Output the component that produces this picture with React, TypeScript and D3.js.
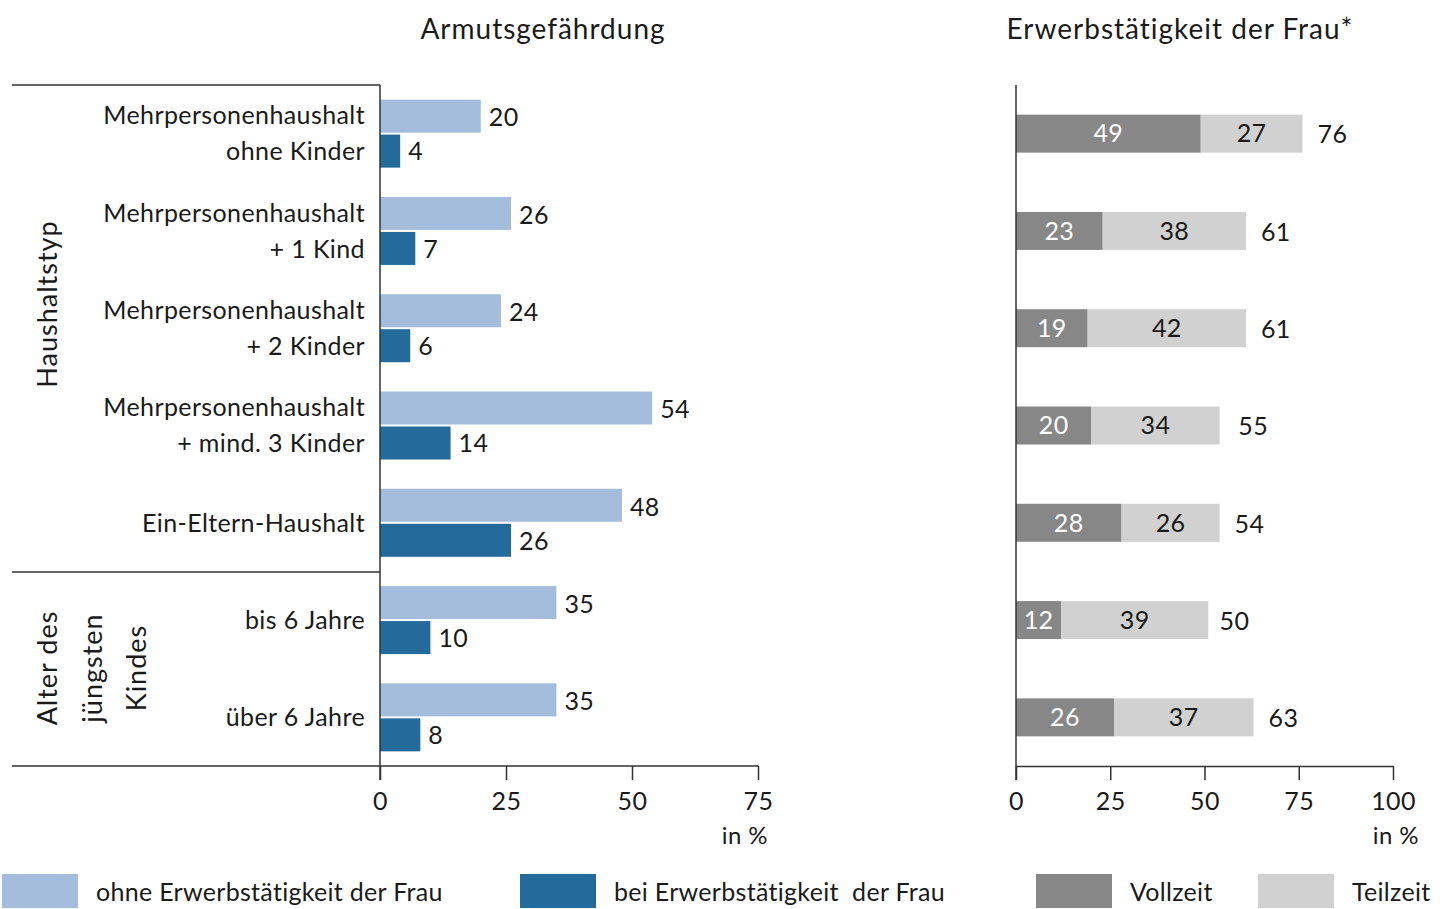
import React, { useRef, useEffect } from 'react';
import * as d3 from 'd3';

const categories = [
  ['Mehrpersonenhaushalt', 'ohne Kinder'],
  ['Mehrpersonenhaushalt', '+ 1 Kind'],
  ['Mehrpersonenhaushalt', '+ 2 Kinder'],
  ['Mehrpersonenhaushalt', '+ mind. 3 Kinder'],
  ['Ein-Eltern-Haushalt'],
  ['bis 6 Jahre'],
  ['über 6 Jahre'],
];
const ohneErwerb = [20, 26, 24, 54, 48, 35, 35];
const beiErwerb = [4, 7, 6, 14, 26, 10, 8];
const vollzeit = [49, 23, 19, 20, 28, 12, 26];
const teilzeit = [27, 38, 42, 34, 26, 39, 37];
const totals = [76, 61, 61, 55, 54, 50, 63];
const leftTicks = [0, 25, 50, 75];
const rightTicks = [0, 25, 50, 75, 100];

const FONT = 'Lato, "Noto Sans", sans-serif';
const C_LIGHT = '#a4bddc';
const C_DARK = '#246b9b';
const C_VOLL = '#878787';
const C_TEIL = '#d1d1d1';
const INK = '#1a1a1a';

const App = () => {
  const ref = useRef(null);

  useEffect(() => {
    const svg = d3.select(ref.current);
    svg.selectAll('*').remove();
    svg.attr('font-family', FONT).attr('fill', INK).attr('letter-spacing', 0.4);

    const idx = categories.map((_, i) => String(i));
    const y = d3.scaleBand().domain(idx).range([85, 766]);
    const cy = (i) => y(String(i)) + y.bandwidth() / 2;

    const xL = d3.scaleLinear().domain([0, 75]).range([380, 758]);
    const xR = d3.scaleLinear().domain([0, 100]).range([1016, 1393]);

    // titles
    svg.append('text').attr('x', 543).attr('y', 39).attr('text-anchor', 'middle')
      .attr('font-size', 28).attr('letter-spacing', 1).text('Armutsgefährdung');
    svg.append('text').attr('x', 1180).attr('y', 39).attr('text-anchor', 'middle')
      .attr('font-size', 28).attr('letter-spacing', 1).text('Erwerbstätigkeit der Frau*');

    // left bars
    const gL = svg.append('g');
    gL.selectAll('rect.light').data(ohneErwerb).enter().append('rect')
      .attr('x', xL(0)).attr('y', (d, i) => cy(i) - 34)
      .attr('width', (d) => xL(d) - xL(0)).attr('height', 33).attr('fill', C_LIGHT);
    gL.selectAll('rect.dark').data(beiErwerb).enter().append('rect')
      .attr('x', xL(0)).attr('y', (d, i) => cy(i) + 1)
      .attr('width', (d) => xL(d) - xL(0)).attr('height', 33).attr('fill', C_DARK);
    gL.selectAll('text.vl').data(ohneErwerb).enter().append('text')
      .attr('x', (d) => xL(d) + 8).attr('y', (d, i) => cy(i) - 16)
      .attr('dy', '0.35em').attr('font-size', 25).text((d) => d);
    gL.selectAll('text.vd').data(beiErwerb).enter().append('text')
      .attr('x', (d) => xL(d) + 8).attr('y', (d, i) => cy(i) + 18)
      .attr('dy', '0.35em').attr('font-size', 25).text((d) => d);

    // category labels
    categories.forEach((lines, i) => {
      const t = svg.append('text').attr('text-anchor', 'end').attr('font-size', 25);
      lines.forEach((ln, j) => {
        const off = lines.length === 1 ? 0 : (j === 0 ? -18 : 18);
        t.append('tspan').attr('x', 365).attr('y', cy(i) + off).attr('dy', '0.35em').text(ln);
      });
    });

    // group labels (rotated)
    const rot = (x, yy, txt) =>
      svg.append('text').attr('transform', `translate(${x},${yy}) rotate(-90)`)
        .attr('text-anchor', 'middle').attr('dy', '0.35em').attr('font-size', 27)
        .attr('letter-spacing', 1).text(txt);
    rot(48, 304, 'Haushaltstyp');
    rot(48, 668, 'Alter des');
    rot(93, 668, 'jüngsten');
    rot(137, 668, 'Kindes');

    // left frame lines
    const line = (x1, y1, x2, y2) =>
      svg.append('line').attr('x1', x1).attr('y1', y1).attr('x2', x2).attr('y2', y2)
        .attr('stroke', '#333').attr('stroke-width', 1.5);
    line(12, 85, 380, 85);
    line(12, 572, 380, 572);

    // left axis
    const axL = svg.append('g').attr('transform', 'translate(0,766)')
      .call(d3.axisBottom(xL).tickValues(leftTicks).tickSize(14).tickSizeOuter(0));
    axL.select('.domain').attr('d', 'M12,0H758').attr('stroke', '#333').attr('stroke-width', 1.5);
    axL.selectAll('.tick line').attr('stroke', '#333').attr('stroke-width', 1.5);
    axL.selectAll('.tick text').attr('font-size', 25).attr('font-family', FONT)
      .attr('fill', INK).attr('y', 26);
    line(380, 85, 380, 780);
    svg.append('text').attr('x', 768).attr('y', 844).attr('text-anchor', 'end')
      .attr('font-size', 24).text('in %');

    // right stacked bars
    const gR = svg.append('g');
    gR.selectAll('rect.voll').data(vollzeit).enter().append('rect')
      .attr('x', xR(0)).attr('y', (d, i) => cy(i) - 19)
      .attr('width', (d) => xR(d) - xR(0)).attr('height', 38).attr('fill', C_VOLL);
    gR.selectAll('rect.teil').data(teilzeit).enter().append('rect')
      .attr('x', (d, i) => xR(vollzeit[i])).attr('y', (d, i) => cy(i) - 19)
      .attr('width', (d, i) => xR(vollzeit[i] + d) - xR(vollzeit[i])).attr('height', 38)
      .attr('fill', C_TEIL);
    gR.selectAll('text.tv').data(vollzeit).enter().append('text')
      .attr('x', (d) => (xR(0) + xR(d)) / 2).attr('y', (d, i) => cy(i))
      .attr('dy', '0.35em').attr('text-anchor', 'middle').attr('font-size', 25)
      .attr('fill', '#fff').text((d) => d);
    gR.selectAll('text.tt').data(teilzeit).enter().append('text')
      .attr('x', (d, i) => (xR(vollzeit[i]) + xR(vollzeit[i] + d)) / 2).attr('y', (d, i) => cy(i))
      .attr('dy', '0.35em').attr('text-anchor', 'middle').attr('font-size', 25)
      .text((d) => d);
    gR.selectAll('text.tot').data(totals).enter().append('text')
      .attr('x', (d) => xR(d) + 15).attr('y', (d, i) => cy(i) + 1)
      .attr('dy', '0.35em').attr('font-size', 25).text((d) => d);

    const axR = svg.append('g').attr('transform', 'translate(0,766)')
      .call(d3.axisBottom(xR).tickValues(rightTicks).tickSize(14).tickSizeOuter(0));
    axR.select('.domain').attr('stroke', '#333').attr('stroke-width', 1.5);
    axR.selectAll('.tick line').attr('stroke', '#333').attr('stroke-width', 1.5);
    axR.selectAll('.tick text').attr('font-size', 25).attr('font-family', FONT)
      .attr('fill', INK).attr('y', 26);
    line(1016, 85, 1016, 780);
    svg.append('text').attr('x', 1419).attr('y', 844).attr('text-anchor', 'end')
      .attr('font-size', 24).text('in %');

    // legend
    const legend = [
      { x: 2, c: C_LIGHT, t: 'ohne Erwerbstätigkeit der Frau' },
      { x: 520, c: C_DARK, t: 'bei Erwerbstätigkeit  der Frau' },
      { x: 1036, c: C_VOLL, t: 'Vollzeit' },
      { x: 1258, c: C_TEIL, t: 'Teilzeit' },
    ];
    const lg = svg.append('g').selectAll('g').data(legend).enter().append('g');
    lg.append('rect').attr('x', (d) => d.x).attr('y', 874).attr('width', 76).attr('height', 34)
      .attr('fill', (d) => d.c);
    lg.append('text').attr('x', (d) => d.x + 94).attr('y', 892).attr('dy', '0.35em')
      .attr('font-size', 25).attr('letter-spacing', 0.3).style('white-space', 'pre')
      .text((d) => d.t);
  }, []);

  return (
    <svg ref={ref} width={1450} height={909}
      style={{ position: 'absolute', left: 0, top: 0, background: '#fff' }} />
  );
};

export default App;
